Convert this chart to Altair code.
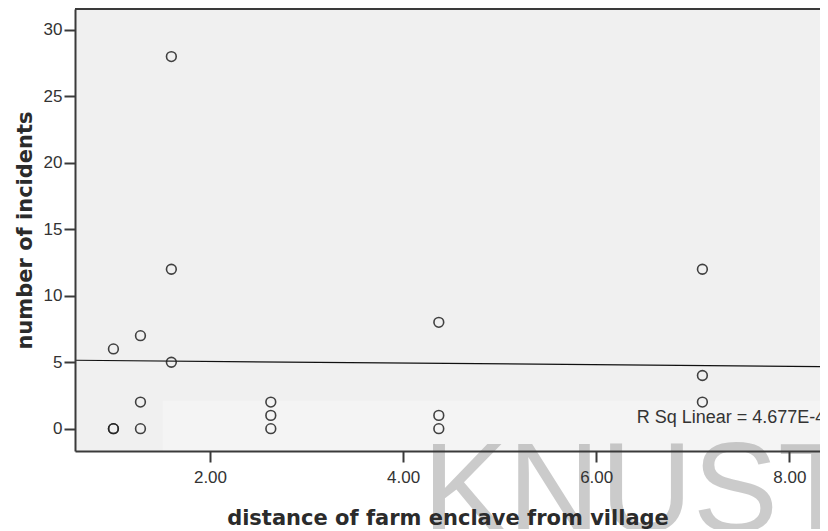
import altair as alt
import pandas as pd

# ---- data ----
distance = [1.0, 1.0, 1.0, 1.28, 1.28, 1.28, 1.6, 1.6, 1.6,
            2.63, 2.63, 2.63, 4.37, 4.37, 4.37, 7.1, 7.1, 7.1]
incidents = [6, 0, 0, 7, 2, 0, 28, 12, 5,
             2, 1, 0, 8, 1, 0, 12, 4, 2]

x_ticks = [2, 4, 6, 8]
y_ticks = [0, 5, 10, 15, 20, 25, 30]
x_domain = [0.602, 8.318]
y_domain = [-1.68, 31.58]
reg_extent = [0.602, 8.40]

r_label = ["R Sq Linear = 4.677E-4"]
r_label_x = [6.42]
r_label_y = [0.41]

watermark = ["KNUST"]
wm_x = [4.2]
wm_y = [-7.74]

box_x = [1.51]
box_x2 = [8.318]
box_y = [2.11]
box_y2 = [-1.68]

W, H = 745, 442

df = pd.DataFrame({"distance": distance, "incidents": incidents})
df_r = pd.DataFrame({"distance": r_label_x, "incidents": r_label_y, "t": r_label})
df_wm = pd.DataFrame({"distance": wm_x, "incidents": wm_y, "t": watermark})
df_box = pd.DataFrame({"distance": box_x, "x2": box_x2, "incidents": box_y, "y2": box_y2})

xs = alt.Scale(domain=x_domain, nice=False, zero=False)
ys = alt.Scale(domain=y_domain, nice=False, zero=False)

ink = "#3a3a3a"

x_axis = alt.Axis(values=x_ticks, format=".2f",
                  title="distance of farm enclave from village",
                  grid=False, domainColor=ink, domainWidth=2,
                  tickColor=ink, tickWidth=2, tickSize=11,
                  labelFont="Liberation Sans", labelFontSize=17,
                  labelColor="#333333", labelPadding=7, labelFlush=False,
                  titleFont="DejaVu Sans", titleFontSize=21,
                  titleFontWeight="bold", titleColor="#2b2b2b",
                  titleBaseline="alphabetic", titleY=73, zindex=1)
y_axis = alt.Axis(values=y_ticks, format="d",
                  title="number of incidents",
                  grid=False, domainColor=ink, domainWidth=2,
                  tickColor=ink, tickWidth=2, tickSize=11,
                  labelFont="Liberation Sans", labelFontSize=17,
                  labelColor="#333333", labelPadding=2, labelFlush=False,
                  titleFont="DejaVu Sans", titleFontSize=21,
                  titleFontWeight="bold", titleColor="#2b2b2b",
                  titleBaseline="alphabetic", titleX=-44, titleY=H / 2,
                  titleAngle=270, zindex=1)

X = alt.X("distance:Q", scale=xs, axis=x_axis)
Y = alt.Y("incidents:Q", scale=ys, axis=y_axis)

box = alt.Chart(df_box).mark_rect(color="white", opacity=0.28).encode(
    x=X, x2="x2:Q", y=Y, y2="y2:Q",
)

wm = alt.Chart(df_wm).mark_text(
    font="Liberation Sans", fontSize=128, align="left",
    baseline="alphabetic", color="#999999", opacity=0.5
).encode(x=X, y=Y, text="t:N")

top_border = alt.Chart(df_box).mark_rule(color=ink, strokeWidth=2).encode(
    x=alt.value(0), x2=alt.value(W), y=alt.value(0)
)

points = alt.Chart(df).mark_point(
    shape="circle", filled=False, size=95, stroke="#222222",
    strokeWidth=1.6, opacity=0.85
).encode(x=X, y=Y)

reg = alt.Chart(df).transform_regression(
    "distance", "incidents", extent=reg_extent
).mark_line(color="#111111", strokeWidth=1.2, clip=True).encode(x=X, y=Y)

rtext = alt.Chart(df_r).mark_text(
    font="Liberation Sans", fontSize=18, align="left",
    baseline="alphabetic", color="#333333"
).encode(x=X, y=Y, text="t:N")

chart = alt.layer(box, wm, reg, points, rtext, top_border).properties(
    width=W, height=H,
    autosize=alt.AutoSizeParams(type="none"),
    padding={"left": 67, "top": 1, "right": 0, "bottom": 78},
    background="white",
).configure_view(fill="#f0f0f0", stroke=None)

chart.save("out.html", embed_options={"renderer": "svg", "actions": False})
